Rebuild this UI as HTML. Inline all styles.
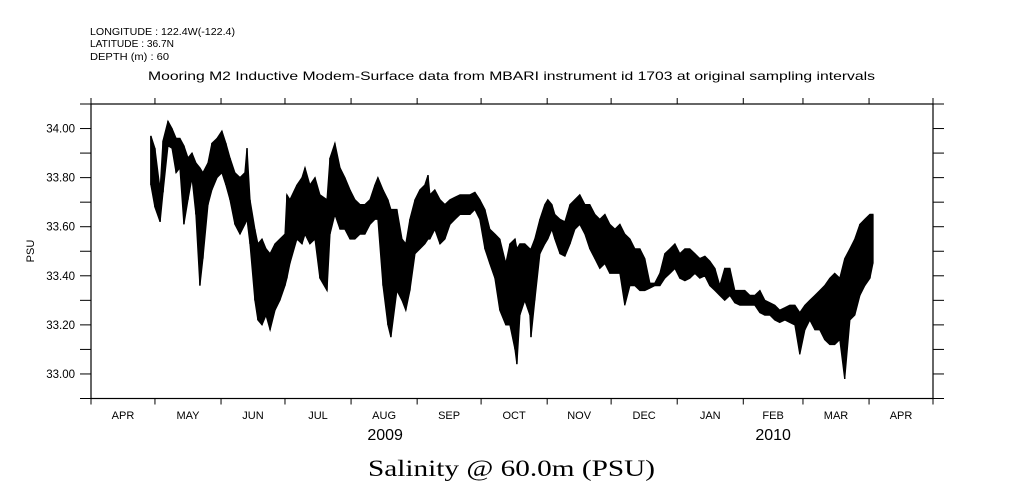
<!DOCTYPE html>
<html><head><meta charset="utf-8"><style>
body{margin:0;background:#fff;}
svg{display:block;font-family:"Liberation Sans",sans-serif;}
</style></head><body>
<svg id="chart" width="1009" height="504" viewBox="0 0 1009 504">
<g font-size="10" fill="#000">
<text x="90" y="35" textLength="145" lengthAdjust="spacingAndGlyphs">LONGITUDE : 122.4W(-122.4)</text>
<text x="90" y="47" textLength="84" lengthAdjust="spacingAndGlyphs">LATITUDE : 36.7N</text>
<text x="90" y="60" textLength="79" lengthAdjust="spacingAndGlyphs">DEPTH (m) : 60</text>
</g>
<text x="148" y="80" font-size="12" textLength="727" lengthAdjust="spacingAndGlyphs">Mooring M2 Inductive Modem-Surface data from MBARI instrument id 1703 at original sampling intervals</text>
<text transform="translate(34,251) rotate(-90)" font-size="11" text-anchor="middle">PSU</text>
<text x="368" y="476" font-family="Liberation Serif,serif" font-size="23" textLength="287" lengthAdjust="spacingAndGlyphs">Salinity @ 60.0m (PSU)</text>
<g id="axes"></g>
<g id="series"></g>
</svg>
<script>
const NS="http://www.w3.org/2000/svg";
// days since 2009-04-01
const days=[28.1,30.0,32.4,33.8,36.1,38.0,39.9,41.7,43.6,45.5,47.4,49.2,51.1,52.5,54.9,56.7,59.1,61.4,63.3,65.2,67.5,69.9,72.2,73.2,74.6,76.9,78.3,80.2,82.1,84.0,86.3,88.6,91.0,91.9,93.3,96.6,99.0,100.4,102.7,105.1,107.4,110.7,112.1,114.4,116.8,119.1,121.5,123.8,126.2,128.5,130.9,133.2,134.6,137.0,139.3,140.7,143.5,145.9,147.7,149.6,152.0,154.3,156.6,158.1,159.0,161.3,163.7,166.0,168.4,170.7,173.1,175.4,177.8,180.1,182.4,184.8,187.1,189.5,191.8,194.6,196.5,198.9,199.8,201.2,203.5,205.9,206.4,208.2,210.6,212.9,214.3,216.2,217.6,220.0,222.3,224.7,227.0,229.3,231.7,234.0,236.4,238.7,241.1,243.4,245.8,248.1,250.4,252.8,255.1,257.5,259.8,262.2,264.5,266.9,269.2,271.6,273.9,276.2,278.6,280.9,283.3,285.6,288.0,290.3,292.7,295.0,297.3,299.7,302.0,304.4,306.7,309.1,311.4,313.8,316.1,318.5,320.8,323.1,325.5,327.8,330.2,332.5,334.9,337.2,339.6,341.9,344.2,346.6,348.9,351.3,353.6,356.0,358.3,360.7,363.0,365.4,366.8];
const salHigh=[33.97,33.92,33.75,33.95,34.03,34.00,33.96,33.96,33.93,33.88,33.90,33.86,33.84,33.82,33.86,33.94,33.96,33.99,33.94,33.88,33.82,33.80,33.82,33.92,33.71,33.59,33.53,33.55,33.51,33.49,33.53,33.55,33.57,33.73,33.71,33.77,33.80,33.84,33.77,33.80,33.73,33.71,33.88,33.94,33.84,33.80,33.75,33.71,33.69,33.69,33.71,33.77,33.80,33.75,33.71,33.67,33.67,33.55,33.53,33.63,33.71,33.75,33.77,33.81,33.73,33.75,33.71,33.69,33.71,33.72,33.73,33.73,33.73,33.74,33.71,33.67,33.59,33.57,33.55,33.45,33.53,33.55,33.51,33.53,33.53,33.51,33.51,33.55,33.63,33.69,33.71,33.69,33.65,33.63,33.62,33.69,33.71,33.73,33.69,33.69,33.65,33.63,33.65,33.61,33.59,33.61,33.57,33.55,33.51,33.51,33.47,33.37,33.37,33.41,33.49,33.51,33.53,33.49,33.51,33.51,33.49,33.47,33.48,33.46,33.43,33.36,33.43,33.43,33.34,33.34,33.34,33.32,33.32,33.34,33.30,33.29,33.28,33.26,33.27,33.28,33.28,33.25,33.28,33.30,33.32,33.34,33.36,33.39,33.41,33.39,33.47,33.51,33.55,33.61,33.63,33.65,33.65];
const salLow=[33.77,33.68,33.62,33.74,33.93,33.92,33.82,33.84,33.61,33.71,33.80,33.65,33.36,33.47,33.69,33.75,33.80,33.82,33.77,33.71,33.61,33.57,33.61,33.63,33.53,33.30,33.22,33.20,33.24,33.18,33.26,33.30,33.36,33.39,33.45,33.55,33.53,33.57,33.53,33.55,33.39,33.34,33.57,33.65,33.59,33.59,33.55,33.55,33.57,33.57,33.61,33.63,33.63,33.36,33.20,33.15,33.34,33.30,33.26,33.34,33.49,33.51,33.53,33.55,33.55,33.59,33.53,33.55,33.61,33.63,33.65,33.65,33.65,33.67,33.63,33.51,33.45,33.39,33.26,33.20,33.20,33.10,33.04,33.24,33.30,33.24,33.15,33.30,33.49,33.53,33.55,33.59,33.55,33.49,33.48,33.53,33.59,33.61,33.57,33.51,33.47,33.43,33.45,33.41,33.41,33.41,33.28,33.36,33.36,33.34,33.34,33.35,33.36,33.36,33.39,33.41,33.43,33.39,33.38,33.39,33.41,33.39,33.40,33.36,33.34,33.32,33.30,33.32,33.29,33.28,33.28,33.28,33.28,33.25,33.24,33.24,33.22,33.21,33.22,33.21,33.20,33.08,33.18,33.22,33.18,33.18,33.14,33.12,33.12,33.14,32.98,33.22,33.24,33.32,33.36,33.39,33.45];
const yTicks=[33.0,33.2,33.4,33.6,33.8,34.0];
const yTickLabels=["33.00","33.20","33.40","33.60","33.80","34.00"];
const monthStarts=[0,30,61,91,122,153,183,214,244,275,306,334,365,395];
const monthLabels=["APR","MAY","JUN","JUL","AUG","SEP","OCT","NOV","DEC","JAN","FEB","MAR","APR"];
const yearLabels=["2009","2010"];
const yearDays=[138,320];

const L=91,R=933,T=104,B=398.5;
const X=d=>L+(d-0)*(R-L)/395;
const Y=v=>B-(v-32.9)*(B-T)/1.2;
const axes=document.getElementById('axes'),ser=document.getElementById('series');
function mk(tag,attrs,parent){const e=document.createElementNS(NS,tag);for(const k in attrs)e.setAttribute(k,attrs[k]);parent.appendChild(e);return e;}

const frame=mk('rect',{x:L,y:T,width:R-L,height:B-T,fill:'none',stroke:'#000','stroke-width':1.2},axes);



for(let v=32.9;v<=34.101;v+=0.1){
  const y=Y(v);
  const t1=mk('line',{x1:L-11,x2:L,y1:y,y2:y,stroke:'#000'},axes);
  
  
  const t2=mk('line',{x1:R,x2:R+11,y1:y,y2:y,stroke:'#000'},axes);
  
  
}
yTicks.forEach((v,i)=>{
  const t=mk('text',{x:L-16,y:Y(v)+4,'font-size':11.5,'text-anchor':'end'},axes);
  t.textContent=yTickLabels[i];
  
  
});
monthStarts.forEach(d=>{
  const x=X(d);
  const a=mk('line',{x1:x,x2:x,y1:B,y2:B+6,stroke:'#000'},axes);
  
  
  const b=mk('line',{x1:x,x2:x,y1:T-6,y2:T,stroke:'#000'},axes);
  
  
});
monthLabels.forEach((m,i)=>{
  const t=mk('text',{x:(X(monthStarts[i])+X(monthStarts[i+1]))/2,y:419,'font-size':11,'text-anchor':'middle'},axes);
  t.textContent=m;
  
  
});
yearLabels.forEach((yl,i)=>{
  const t=mk('text',{x:X(yearDays[i]),y:440,'font-size':16,'text-anchor':'middle'},axes);
  t.textContent=yl;
  
  
});

let pts=days.map((d,i)=>X(d).toFixed(1)+','+Y(salHigh[i]).toFixed(1));
for(let i=days.length-1;i>=0;i--)pts.push(X(days[i]).toFixed(1)+','+Y(salLow[i]).toFixed(1));
const band=mk('polygon',{points:pts.join(' '),fill:'#000',stroke:'#000','stroke-width':1.2,'stroke-linejoin':'miter'},ser);


days.forEach((d,i)=>{
  const l=mk('line',{x1:X(d),x2:X(d),y1:Y(salHigh[i]),y2:Y(salLow[i]),stroke:'#000','stroke-width':1.5},ser);
  
  
});
</script>
</body></html>
